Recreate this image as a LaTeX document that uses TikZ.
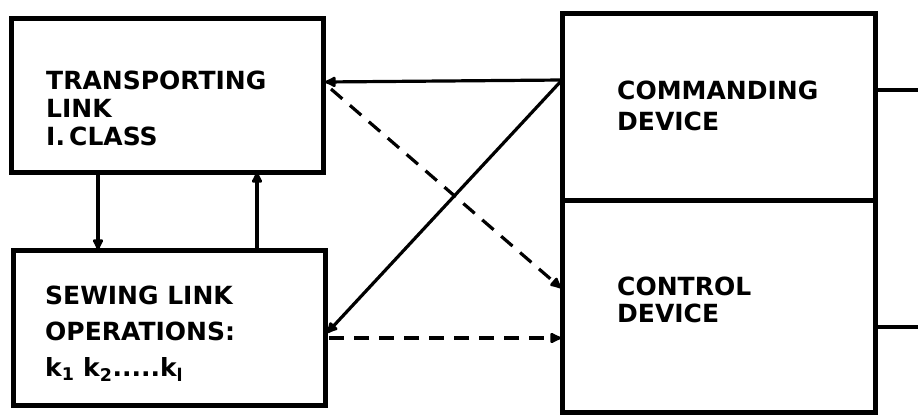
\documentclass[tikz,border=0pt]{standalone}
\usepackage{fontspec}
\setmainfont{DejaVu Sans}
\usetikzlibrary{arrows.meta,calc}
\begin{document}
\begin{tikzpicture}[x=1pt,y=-1pt,
 box/.style={draw,line width=5pt,anchor=north west,inner sep=0pt,outer sep=0pt},
 lbl/.style={anchor=north west,align=left,inner sep=0pt,font=\bfseries\fontsize{25}{28}\selectfont},
 conn/.style={line width=3.2pt},
 tipend/.style={-{Latex[length=14pt,width=13pt,round]}},
 dsh/.style={dash pattern=on 15pt off 10pt}]
\useasboundingbox (0,0) rectangle (918,415);
% boxes
\node[box,minimum width=312pt,minimum height=154pt] (tr) at (11,18) {};
\node[box,minimum width=312pt,minimum height=155pt] (sw) at (13,250) {};
\node[box,minimum width=313pt,minimum height=187pt] (cmd) at (562,13) {};
\node[box,minimum width=313pt,minimum height=212pt] (ctl) at (562,200) {};
% labels
\node[lbl] (trl) at (46,71) {TRANSPORTING\\LINK\\I.\,CLASS};
\node[lbl,font=\bfseries\fontsize{25}{36}\selectfont] (swl) at (45,286) {SEWING LINK\\OPERATIONS:\\k\textsubscript{1} k\textsubscript{2}.....k\textsubscript{l}};
\node[lbl,font=\bfseries\fontsize{25}{31}\selectfont] (cmdl) at (617,81) {COMMANDING\\DEVICE};
\node[lbl,font=\bfseries\fontsize{25}{27}\selectfont] (ctll) at (617,277) {CONTROL\\DEVICE};
% connection points
\coordinate (c1) at (562,80);
\coordinate (t1) at (325,82);
\coordinate (t2) at (331,89);
\coordinate (s1) at (327,333);
\coordinate (s2) at (329,338);
\coordinate (k1) at (561,288);
\coordinate (k2) at (561,338);
\coordinate (v1) at (98,172);
\coordinate (v2) at (257,250);
\coordinate (e1) at (918,90);
\coordinate (e2) at (918,327);
% connectors
\draw[conn,tipend] (c1) -- (t1);
\draw[conn,tipend] (c1) -- (s1);
\draw[conn,dsh,tipend] (t2) -- (k1);
\draw[conn,dsh,tipend] (s2) -- (k2);
\draw[conn,tipend] (v1) -- (v1 |- sw.north);
\draw[conn,tipend] (v2) -- (v2 |- tr.south);
\draw[conn,line width=4pt] (cmd.east |- e1) -- (e1);
\draw[conn,line width=4pt] (ctl.east |- e2) -- (e2);
\end{tikzpicture}
\end{document}
